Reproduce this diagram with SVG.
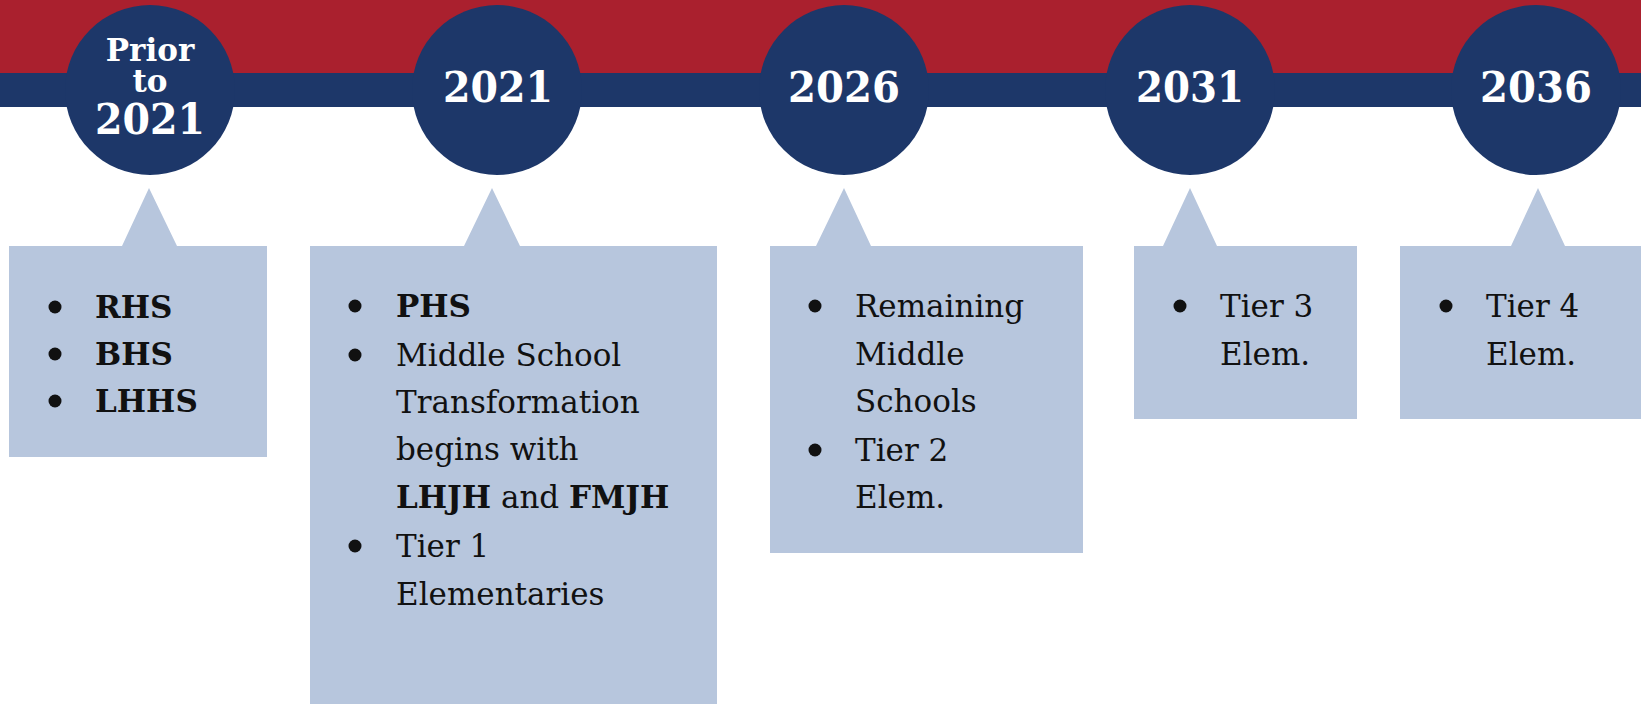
<svg xmlns="http://www.w3.org/2000/svg" width="1641" height="706" viewBox="0 0 1641 706">
<style>
.circ{fill:#1d3769}
.yr{font-family:"DejaVu Serif",serif;font-weight:bold;fill:#ffffff;text-anchor:middle}
.box{fill:#b7c6dd}
.t{font-family:"DejaVu Serif",serif;font-size:31px;fill:#111111}
.b{font-weight:bold}
.dot{fill:#111111}
</style>
<rect x="0" y="0" width="1641" height="706" fill="#ffffff"/>
<g id="band">
<rect x="0" y="0" width="1641" height="73" fill="#aa202e"/>
<rect x="0" y="73" width="1641" height="34" fill="#1d3769"/>
</g>
<g id="connectors"></g>
<g id="node-prior">
<circle class="circ" cx="150" cy="90" r="85"/>
<text class="yr" x="150" y="61" font-size="31">Prior</text>
<text class="yr" x="150" y="92" font-size="31">to</text>
<text class="yr" x="150" y="134" font-size="42" textLength="110" lengthAdjust="spacingAndGlyphs">2021</text>
</g>
<g id="node-2021">
<circle class="circ" cx="497" cy="90" r="85"/>
<text class="yr" x="498" y="102" font-size="42" textLength="110" lengthAdjust="spacingAndGlyphs">2021</text>
</g>
<g id="node-2026">
<circle class="circ" cx="844" cy="90" r="85"/>
<text class="yr" x="844" y="102" font-size="42" textLength="112" lengthAdjust="spacingAndGlyphs">2026</text>
</g>
<g id="node-2031">
<circle class="circ" cx="1190" cy="90" r="85"/>
<text class="yr" x="1190" y="102" font-size="42" textLength="108" lengthAdjust="spacingAndGlyphs">2031</text>
</g>
<g id="node-2036">
<circle class="circ" cx="1536" cy="90" r="85"/>
<text class="yr" x="1536" y="102" font-size="42" textLength="112" lengthAdjust="spacingAndGlyphs">2036</text>
</g>
<g id="box-prior">
<polygon class="box" points="149,188 177,246 267,246 267,457 9,457 9,246 122,246"/>
<circle class="dot" cx="55" cy="307" r="6.5"/>
<circle class="dot" cx="55" cy="354" r="6.5"/>
<circle class="dot" cx="55" cy="401" r="6.5"/>
<text class="t b" x="95" y="318">RHS</text>
<text class="t b" x="95" y="365">BHS</text>
<text class="t b" x="95" y="412">LHHS</text>
</g>
<g id="box-2021">
<polygon class="box" points="492,188 520,246 717,246 717,704 310,704 310,246 464,246"/>
<circle class="dot" cx="355" cy="306" r="6.5"/>
<circle class="dot" cx="355" cy="355" r="6.5"/>
<circle class="dot" cx="355" cy="546" r="6.5"/>
<text class="t b" x="396" y="317">PHS</text>
<text class="t" x="396" y="366">Middle School</text>
<text class="t" x="396" y="413">Transformation</text>
<text class="t" x="396" y="460">begins with</text>
<text class="t" x="396" y="508"><tspan class="b">LHJH</tspan> and <tspan class="b">FMJH</tspan></text>
<text class="t" x="396" y="557">Tier 1</text>
<text class="t" x="396" y="605">Elementaries</text>
</g>
<g id="box-2026">
<polygon class="box" points="844,188 871,246 1083,246 1083,553 770,553 770,246 816,246"/>
<circle class="dot" cx="815" cy="306" r="6.5"/>
<circle class="dot" cx="815" cy="450" r="6.5"/>
<text class="t" x="855" y="317">Remaining</text>
<text class="t" x="855" y="365">Middle</text>
<text class="t" x="855" y="412">Schools</text>
<text class="t" x="855" y="461">Tier 2</text>
<text class="t" x="855" y="508">Elem.</text>
</g>
<g id="box-2031">
<polygon class="box" points="1190,188 1217,246 1357,246 1357,419 1134,419 1134,246 1163,246"/>
<circle class="dot" cx="1180" cy="306" r="6.5"/>
<text class="t" x="1220" y="317">Tier 3</text>
<text class="t" x="1220" y="365">Elem.</text>
</g>
<g id="box-2036">
<polygon class="box" points="1538,188 1565,246 1641,246 1641,419 1400,419 1400,246 1511,246"/>
<circle class="dot" cx="1446" cy="306" r="6.5"/>
<text class="t" x="1486" y="317">Tier 4</text>
<text class="t" x="1486" y="365">Elem.</text>
</g>
</svg>
